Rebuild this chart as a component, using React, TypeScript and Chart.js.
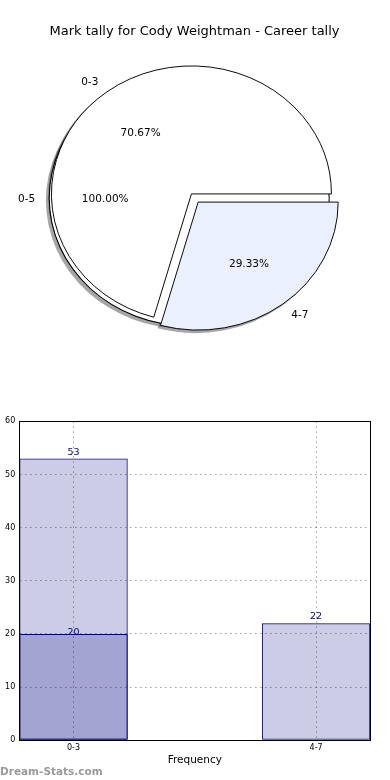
import React, { useEffect, useRef } from 'react';
import { Chart, registerables } from 'chart.js';

Chart.register(...registerables);

// ---------------- data ----------------
const chartTitle = 'Mark tally for Cody Weightman - Career tally';
const pieLabels = ['0-3', '4-7'];
const pieValues = [53, 22];
const outerPieLabels = ['0-5'];
const outerPieValues = [75];
const barCategories = ['0-3', '4-7'];
const barTotals = [53, 22];
const barSubset: (number | null)[] = [20, null];
const yTickValues = [0, 10, 20, 30, 40, 50, 60];
const xAxisTitle = 'Frequency';
const watermark = 'Dream-Stats.com';

// ---------------- style ----------------
const FONT = "'DejaVu Sans', 'Liberation Sans', sans-serif";
const PIE_SIZE = 390;
const RADIUS_X = 140;
const RADIUS_Y = 128;
const PIE_CX = 194.8;
const PIE_CY = 198;
const EXPLODE = 0.04;
const SHADOW_FILL = 'rgba(77,77,77,0.5)';
const SHADOW_SHIFT: [number, number] = [-0.02 * RADIUS_X, 0.02 * RADIUS_Y];
const PIE_FILLS = ['#ffffff', '#eaf0fd'];
const BAR_FILL = 'rgba(0,0,128,0.2)';
const BAR_EDGE = '#000080';
const GRID_COLOR = 'rgba(0,0,0,0.33)';
const TEXT_DY = 0.9;

// matplotlib-like pie: elliptical axes, exploded wedges, labels at 1.1 r and 0.6 r
const mplPiePlugin = {
  id: 'mplPie',
  afterDatasetsUpdate(chart: any, _args: any, opts: any) {
    chart.data.datasets.forEach((_ds: any, di: number) => {
      const meta = chart.getDatasetMeta(di);
      meta.data.forEach((el: any) => {
        const mid = (el.startAngle + el.endAngle) / 2;
        el.x += Math.cos(mid) * opts.explode * opts.rx;
        el.y += Math.sin(mid) * opts.explode * opts.rx;
      });
    });
  },
  beforeDatasetsDraw(chart: any, _args: any, opts: any) {
    const { ctx, chartArea } = chart;
    const cx = (chartArea.left + chartArea.right) / 2;
    const cy = (chartArea.top + chartArea.bottom) / 2;
    ctx.save();
    ctx.translate(cx + opts.dx, cy + opts.dy);
    ctx.scale(1, opts.sy);
    ctx.translate(-cx, -cy);
  },
  afterDatasetsDraw(chart: any, _args: any, opts: any) {
    const { ctx, chartArea } = chart;
    ctx.restore();
    if (!opts.showText) return;
    const cx = (chartArea.left + chartArea.right) / 2;
    const cy = (chartArea.top + chartArea.bottom) / 2;
    const meta = chart.getDatasetMeta(0);
    const data: number[] = chart.data.datasets[0].data;
    const total = data.reduce((a, b) => a + b, 0);
    ctx.save();
    ctx.font = `10.5px ${FONT}`;
    ctx.fillStyle = '#000';
    ctx.textBaseline = 'middle';
    meta.data.forEach((el: any, i: number) => {
      const mid = (el.startAngle + el.endAngle) / 2;
      const at = (k: number) => ({
        x: el.x + Math.cos(mid) * k * opts.rx,
        y: cy + (el.y + Math.sin(mid) * k * opts.rx - cy) * opts.sy + TEXT_DY,
      });
      const lp = at(1.1);
      ctx.textAlign = lp.x > cx ? 'left' : 'right';
      ctx.fillText(String(chart.data.labels[i]), lp.x, lp.y);
      const pp = at(0.6);
      ctx.textAlign = 'center';
      ctx.fillText(((data[i] / total) * 100).toFixed(2) + '%', pp.x, pp.y);
    });
    ctx.restore();
  },
};

type PieSpec = {
  labels: string[];
  values: number[];
  fills: string[];
  edge: 'stroke' | 'ring' | 'none';
  showText: boolean;
  shift: [number, number];
};

function pieConfig(spec: PieSpec): any {
  // Chart.js sweeps clockwise from 3 o'clock; matplotlib counter-clockwise -> reverse order
  const order = spec.values.map((_, i) => i).reverse();
  const values = order.map((i) => spec.values[i]);
  const fills = order.map((i) => spec.fills[i]);
  let datasets: any[];
  let radius = RADIUS_X;
  if (spec.edge === 'ring') {
    radius = RADIUS_X + 0.5;
    datasets = [
      { data: values, backgroundColor: '#000', borderWidth: 0, weight: 1, clip: false },
      { data: values, backgroundColor: fills, borderWidth: 0, weight: RADIUS_X - 0.5, clip: false },
    ];
  } else if (spec.edge === 'stroke') {
    datasets = [
      { data: values, backgroundColor: fills, borderColor: '#000', borderWidth: 1, borderJoinStyle: 'miter', clip: false },
    ];
  } else {
    radius = RADIUS_X + 0.5;
    datasets = [{ data: values, backgroundColor: fills, borderWidth: 0, clip: false }];
  }
  return {
    type: 'pie',
    data: { labels: order.map((i) => spec.labels[i]), datasets },
    options: {
      responsive: false,
      animation: false,
      events: [],
      rotation: 90,
      radius,
      layout: {
        padding: { left: 0, right: PIE_SIZE - 2 * PIE_CX, top: 2 * PIE_CY - PIE_SIZE, bottom: 0 },
      },
      plugins: {
        legend: { display: false },
        tooltip: { enabled: false },
        mplPie: {
          explode: EXPLODE,
          rx: RADIUS_X,
          sy: RADIUS_Y / RADIUS_X,
          dx: spec.shift[0],
          dy: spec.shift[1],
          showText: spec.showText,
        },
      },
    },
    plugins: [mplPiePlugin],
  };
}

const barValuesPlugin = {
  id: 'barValues',
  afterDatasetsDraw(chart: any, _args: any, opts: any) {
    const { ctx } = chart;
    ctx.save();
    ctx.font = `9.5px ${FONT}`;
    ctx.fillStyle = BAR_EDGE;
    ctx.textAlign = 'center';
    ctx.textBaseline = 'alphabetic';
    chart.data.datasets.forEach((ds: any, di: number) => {
      const meta = chart.getDatasetMeta(di);
      meta.data.forEach((el: any, i: number) => {
        ctx.fillText(String(ds.data[i].y), el.x, el.y - opts.offsets[di]);
      });
    });
    ctx.restore();
  },
};

function barConfig(): any {
  const tickFont = { family: FONT, size: 8 };
  const barStyle = {
    backgroundColor: BAR_FILL,
    borderColor: BAR_EDGE,
    borderWidth: 1,
    borderSkipped: false,
    xAxisID: 'x',
    yAxisID: 'y',
  };
  return {
    type: 'bar',
    data: {
      datasets: [
        { ...barStyle, data: barCategories.map((_, i) => ({ x: i, y: barTotals[i] })) },
        {
          ...barStyle,
          data: barSubset.flatMap((v, i) => (v == null ? [] : [{ x: i, y: v }])),
        },
      ],
    },
    options: {
      responsive: false,
      animation: false,
      events: [],
      layout: { padding: { top: 21.3, right: 19.7, left: 0, bottom: 0 } },
      datasets: { bar: { grouped: false, barPercentage: 0.447, categoryPercentage: 1 } },
      plugins: {
        legend: { display: false },
        tooltip: { enabled: false },
        barValues: { offsets: [4, -1] },
      },
      scales: {
        x: {
          type: 'linear',
          position: 'bottom',
          min: -0.2235,
          max: 1.2235,
          offset: false,
          afterBuildTicks: (s: any) => {
            s.ticks = barCategories.map((_, i) => ({ value: i }));
          },
          afterFit: (s: any) => {
            s.height = 39.7;
          },
          ticks: {
            callback: (v: any) => barCategories[Math.round(Number(v))],
            font: tickFont,
            color: '#000',
            padding: 3,
            maxRotation: 0,
            autoSkip: false,
          },
          grid: { offset: false, drawTicks: false, color: GRID_COLOR, lineWidth: 1, z: 1 },
          border: { color: '#000', width: 1, dash: [1.7, 3.3], z: 1 },
          title: {
            display: true,
            text: xAxisTitle,
            font: { family: FONT, size: 10.5 },
            color: '#000',
            padding: { top: 0, bottom: 13 },
          },
        },
        y: {
          type: 'linear',
          position: 'left',
          min: 0,
          max: 60,
          afterBuildTicks: (s: any) => {
            s.ticks = yTickValues.map((v) => ({ value: v }));
          },
          afterFit: (s: any) => {
            s.width = 19.3;
          },
          ticks: { font: tickFont, color: '#000', padding: 4 },
          grid: { drawTicks: false, color: GRID_COLOR, lineWidth: 1, z: 1 },
          border: { color: '#000', width: 1, dash: [1.7, 3.3], z: 1 },
        },
        xTop: {
          type: 'linear',
          position: 'top',
          ticks: { display: false },
          grid: { display: false },
          border: { color: '#000', width: 1, z: 1 },
          afterFit: (s: any) => {
            s.height = 0;
          },
        },
        yRight: {
          type: 'linear',
          position: 'right',
          ticks: { display: false },
          grid: { display: false },
          border: { color: '#000', width: 1, z: 1 },
          afterFit: (s: any) => {
            s.width = 0;
          },
        },
      },
    },
    plugins: [barValuesPlugin],
  };
}

function ChartCanvas({ make, width, height, top }: { make: () => any; width: number; height: number; top: number }) {
  const ref = useRef<HTMLCanvasElement>(null);
  useEffect(() => {
    const chart = new Chart(ref.current as HTMLCanvasElement, make());
    return () => chart.destroy();
  }, []);
  return (
    <canvas
      ref={ref}
      width={width}
      height={height}
      style={{ position: 'absolute', left: 0, top, width, height }}
    />
  );
}

export default function App() {
  const layers: PieSpec[] = [
    { labels: outerPieLabels, values: outerPieValues, fills: [SHADOW_FILL], edge: 'none', showText: false, shift: SHADOW_SHIFT },
    { labels: pieLabels, values: pieValues, fills: [SHADOW_FILL, SHADOW_FILL], edge: 'none', showText: false, shift: SHADOW_SHIFT },
    { labels: outerPieLabels, values: outerPieValues, fills: ['#ffffff'], edge: 'ring', showText: false, shift: [0, 0] },
    { labels: pieLabels, values: pieValues, fills: PIE_FILLS, edge: 'stroke', showText: true, shift: [0, 0] },
    { labels: outerPieLabels, values: outerPieValues, fills: ['rgba(0,0,0,0)'], edge: 'none', showText: true, shift: [0, 0] },
  ];
  return (
    <div style={{ position: 'absolute', left: 0, top: 0, width: 390, height: 780, background: '#fff', overflow: 'hidden' }}>
      {layers.map((spec, i) => (
        <ChartCanvas key={i} make={() => pieConfig(spec)} width={PIE_SIZE} height={PIE_SIZE} top={0} />
      ))}
      <div
        style={{
          position: 'absolute',
          left: 0,
          top: 22.5,
          width: 389,
          textAlign: 'center',
          font: `13px ${FONT}`,
          lineHeight: '16px',
          color: '#000',
          whiteSpace: 'nowrap',
        }}
      >
        {chartTitle}
      </div>
      <ChartCanvas make={barConfig} width={390} height={380} top={400} />
      <div
        style={{
          position: 'absolute',
          left: 0,
          top: 764.9,
          font: `bold 10.5px ${FONT}`,
          lineHeight: '13px',
          color: '#9a9a9a',
          whiteSpace: 'nowrap',
        }}
      >
        {watermark}
      </div>
    </div>
  );
}
